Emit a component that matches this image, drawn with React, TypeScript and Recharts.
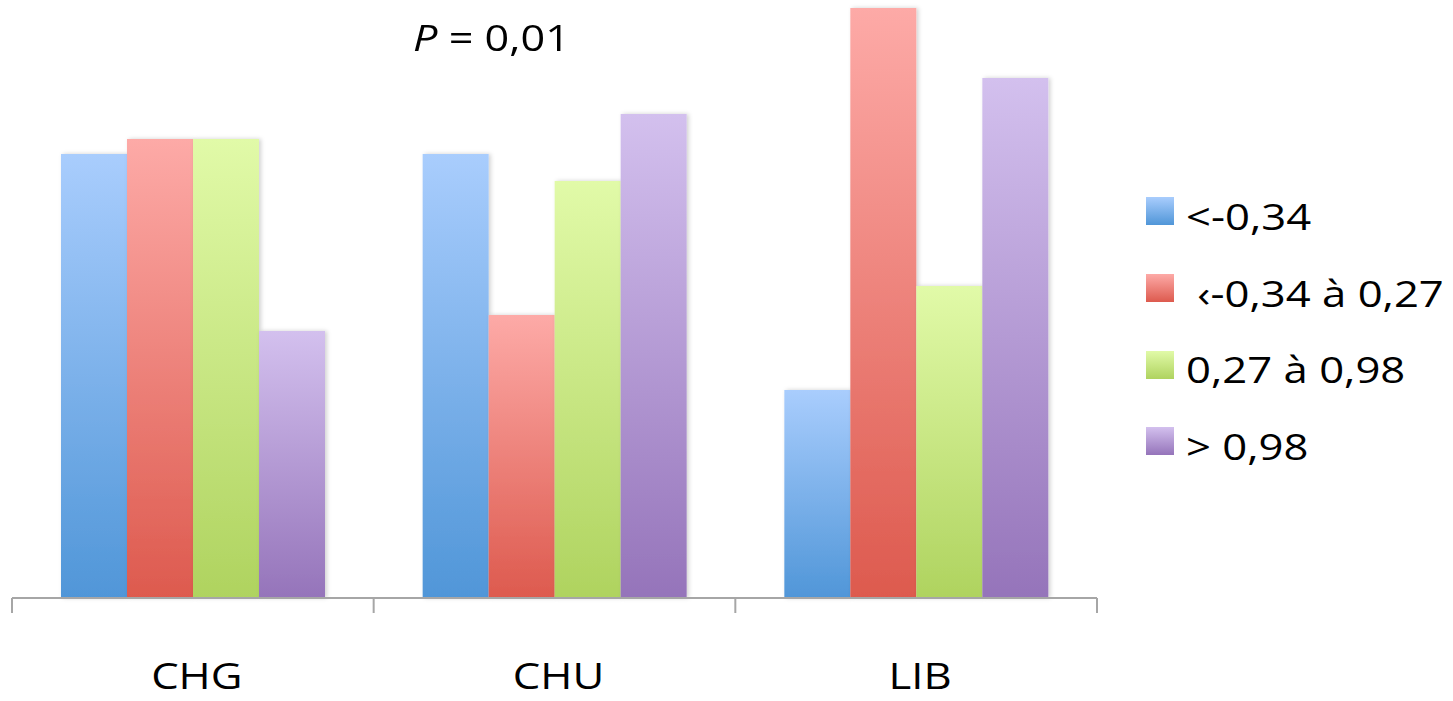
import React from 'react'
import { BarChart, Bar, XAxis, YAxis } from 'recharts'

const categories = ['CHG', 'CHU', 'LIB']
const lowValues = [44.4, 44.4, 20.8]
const midLowValues = [45.9, 28.3, 59.0]
const midHighValues = [45.9, 41.7, 31.2]
const highValues = [26.7, 48.4, 52.0]
const seriesNames = ['<-0,34', ' ‹-0,34 à 0,27', '0,27 à 0,98', '> 0,98']

const data = categories.map((name, i) => ({
  name,
  low: lowValues[i],
  midLow: midLowValues[i],
  midHigh: midHighValues[i],
  high: highValues[i],
}))

const series = [
  { key: 'low', top: '#A9CDFD', bottom: '#5096D8' },
  { key: 'midLow', top: '#FDAAA7', bottom: '#DD5A4E' },
  { key: 'midHigh', top: '#E1FAA8', bottom: '#AFD35F' },
  { key: 'high', top: '#D3C0EE', bottom: '#9574BA' },
]

const FONT = '"Open Sans", sans-serif'
const FONT_SIZE = 37
const STRETCH = 1.18
const PLOT_LEFT = 12
const PLOT_RIGHT = 1097

// tick marks sit on the band edges, label centred under the group
const CategoryTick = (props: any) => {
  const { x, y, payload, index } = props
  const band = (PLOT_RIGHT - PLOT_LEFT) / categories.length
  return (
    <g>
      <line x1={x - band / 2} x2={x - band / 2} y1={y} y2={y + 15} stroke="#A6A6A6" strokeWidth={2} />
      {index === categories.length - 1 && (
        <line x1={x + band / 2} x2={x + band / 2} y1={y} y2={y + 15} stroke="#A6A6A6" strokeWidth={2} />
      )}
      <text
        transform={`translate(${x + 4},${y + 91}) scale(${STRETCH},1)`}
        textAnchor="middle"
        fontSize={FONT_SIZE}
        fontFamily={FONT}
        fill="#000"
      >
        {payload.value}
      </text>
    </g>
  )
}

const LegendBox = () => (
  <div
    style={{
      position: 'absolute',
      left: 1146,
      top: 173,
      fontFamily: FONT,
      fontSize: FONT_SIZE,
      color: '#000',
    }}
  >
    {series.map((s, i) => (
      <div key={s.key} style={{ display: 'flex', alignItems: 'center', height: 76.7 }}>
        <div
          style={{
            width: 28,
            height: 28,
            marginRight: 12,
            background: `linear-gradient(${s.top}, ${s.bottom})`,
          }}
        />
        <span
          style={{
            whiteSpace: 'pre',
            display: 'inline-block',
            transform: `scaleX(${STRETCH}) translateY(4px)`,
            transformOrigin: 'left center',
          }}
        >
          {seriesNames[i]}
        </span>
      </div>
    ))}
  </div>
)

export default function App() {
  return (
    <div style={{ position: 'absolute', left: 0, top: 0, width: 1453, height: 701, background: '#fff' }}>
      <BarChart
        width={1453}
        height={701}
        data={data}
        margin={{ top: 8, right: 1453 - PLOT_RIGHT, left: PLOT_LEFT, bottom: 73 }}
        barCategoryGap={49}
        barGap={0}
      >
        <defs>
          {series.map((s) => (
            <linearGradient key={s.key} id={`grad-${s.key}`} x1="0" y1="0" x2="0" y2="1">
              <stop offset="0%" stopColor={s.top} />
              <stop offset="100%" stopColor={s.bottom} />
            </linearGradient>
          ))}
          <filter id="barShadow" x="-10%" y="-5%" width="130%" height="110%">
            <feDropShadow dx="2" dy="0" stdDeviation="2" floodColor="#000" floodOpacity="0.18" />
          </filter>
        </defs>
        <XAxis
          dataKey="name"
          height={30}
          axisLine={{ stroke: '#A6A6A6', strokeWidth: 2 }}
          tickLine={false}
          tickSize={0}
          tickMargin={0}
          tick={<CategoryTick />}
          interval={0}
        />
        <YAxis hide domain={[0, 59]} />
        {series.map((s) => (
          <Bar
            key={s.key}
            dataKey={s.key}
            fill={`url(#grad-${s.key})`}
            filter="url(#barShadow)"
            isAnimationActive={false}
          />
        ))}
      </BarChart>
      <LegendBox />
      <div
        style={{
          position: 'absolute',
          left: 413,
          top: 13,
          fontFamily: FONT,
          fontSize: 36,
          color: '#000',
          whiteSpace: 'pre',
          transform: `scaleX(1.2)`,
          transformOrigin: 'left top',
        }}
      >
        <i>P</i> = 0,01
      </div>
    </div>
  )
}
